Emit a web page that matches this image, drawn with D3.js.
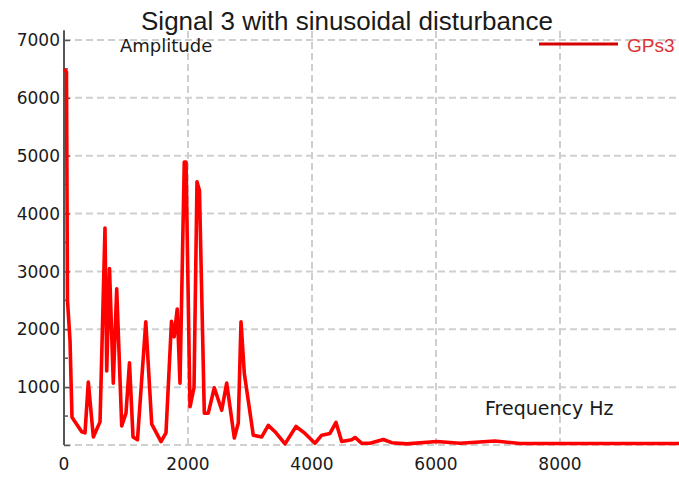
<!DOCTYPE html>
<html>
<head>
<meta charset="utf-8">
<script src="https://cdn.jsdelivr.net/npm/d3@7"></script>
<style>
  body { margin: 0; background: #fff; }
  svg { display: block; }
</style>
</head>
<body>
<div class="chart"></div>
<script>
// spectrum (Hz, amplitude)
const freqs = [0, 40, 56, 97, 129, 285, 339, 392, 473, 581, 661, 689, 734, 795, 850, 931, 1000,
  1056, 1113, 1185, 1319, 1415, 1565, 1645, 1734, 1777, 1826, 1871, 1940, 1968, 2032, 2097,
  2145, 2185, 2263, 2327, 2424, 2544, 2624, 2747, 2811, 2855, 2908, 3053, 3189, 3295, 3403,
  3565, 3742, 3887, 4048, 4157, 4290, 4387, 4479, 4640, 4694, 4802, 4935, 5150, 5286, 5528,
  6012, 6387, 6952, 7355, 8000, 10000];
const amps = [6500, 6450, 2500, 1810, 480, 230, 210, 1090, 140, 400, 3750, 1280, 3050, 1070, 2700, 330, 550,
  1420, 140, 90, 2130, 360, 60, 210, 2140, 1870, 2350, 1070, 4890, 4890, 660, 990,
  4550, 4400, 550, 550, 990, 600, 1070, 120, 380, 2130, 1240, 170, 140, 340, 230,
  20, 320, 200, 30, 170, 200, 390, 60, 90, 130, 30, 30, 95, 40, 20,
  60, 30, 70, 25, 25, 25];

const xTicks = [0, 2000, 4000, 6000, 8000];
const yTicks = [0, 1000, 2000, 3000, 4000, 5000, 6000, 7000];
const yMinor = [500, 1500, 2500, 3500, 4500, 5500, 6500];

const w = 679;
const h = 479;
const left = 64;
const bottom = 445;

const xScale = d3.scaleLinear().domain([0, 10000]).range([left, left + 620]);
const yScale = d3.scaleLinear().domain([0, 7000]).range([bottom, 40]);
const yTop = yScale(7170);

const svg = d3.select(".chart").append("svg").attr("width", w).attr("height", h);

// grid
svg.append("g")
  .selectAll("line")
  .data(yTicks)
  .enter()
  .append("line")
  .attr("x1", left)
  .attr("x2", w)
  .attr("y1", (d) => yScale(d))
  .attr("y2", (d) => yScale(d))
  .attr("stroke", "#cfcfcf")
  .attr("stroke-width", 2)
  .attr("stroke-dasharray", "7,4");

svg.append("g")
  .selectAll("line")
  .data(xTicks.slice(1))
  .enter()
  .append("line")
  .attr("x1", (d) => xScale(d))
  .attr("x2", (d) => xScale(d))
  .attr("y1", bottom)
  .attr("y2", yTop)
  .attr("stroke", "#cfcfcf")
  .attr("stroke-width", 2)
  .attr("stroke-dasharray", "7,4");

// y axis, ticks pointing into the plot
const yAxis = d3.axisRight(yScale).tickValues(yTicks).tickSize(6).tickFormat("");
const yAxisG = svg.append("g").attr("transform", "translate(" + left + ",0)").call(yAxis);
yAxisG.select(".domain").remove();
yAxisG.selectAll("line").attr("stroke", "#555").attr("stroke-width", 1.5);

svg.append("g")
  .selectAll("line")
  .data(yMinor)
  .enter()
  .append("line")
  .attr("x1", left)
  .attr("x2", left + 4)
  .attr("y1", (d) => yScale(d))
  .attr("y2", (d) => yScale(d))
  .attr("stroke", "#555")
  .attr("stroke-width", 1.5);

svg.append("line")
  .attr("x1", left)
  .attr("x2", left)
  .attr("y1", bottom)
  .attr("y2", yTop)
  .attr("stroke", "#555")
  .attr("stroke-width", 2);

svg.append("g")
  .selectAll("text")
  .data(yTicks.slice(1))
  .enter()
  .append("text")
  .attr("x", left - 4)
  .attr("y", (d) => yScale(d))
  .attr("dy", "0.36em")
  .attr("text-anchor", "end")
  .style("font-family", "DejaVu Sans")
  .style("font-size", "17px")
  .style("fill", "#1a1a1a")
  .text((d) => d);

svg.append("g")
  .selectAll("text")
  .data(xTicks)
  .enter()
  .append("text")
  .attr("x", (d) => xScale(d))
  .attr("y", 470)
  .attr("text-anchor", "middle")
  .style("font-family", "DejaVu Sans")
  .style("font-size", "17px")
  .style("fill", "#1a1a1a")
  .text((d) => d);

// spectrum line
const line = d3.line()
  .x((d, i) => xScale(freqs[i]))
  .y((d, i) => yScale(amps[i]));

svg.append("path")
  .datum(amps)
  .attr("d", line)
  .attr("fill", "none")
  .attr("stroke", "#f00")
  .attr("stroke-width", 3.6)
  .attr("stroke-linejoin", "round");

// titles
svg.append("text")
  .attr("x", 347)
  .attr("y", 30)
  .attr("text-anchor", "middle")
  .style("font-family", "Liberation Sans")
  .style("font-size", "26px")
  .style("fill", "#1a1a1a")
  .text("Signal 3 with sinusoidal disturbance");

svg.append("text")
  .attr("x", 120)
  .attr("y", 52)
  .style("font-family", "DejaVu Sans")
  .style("font-size", "18px")
  .style("fill", "#1a1a1a")
  .text("Amplitude");

svg.append("text")
  .attr("x", 485)
  .attr("y", 415)
  .style("font-family", "DejaVu Sans")
  .style("font-size", "19px")
  .style("fill", "#1a1a1a")
  .text("Frequency Hz");

// legend
svg.append("line")
  .attr("x1", 539)
  .attr("x2", 618)
  .attr("y1", 44)
  .attr("y2", 44)
  .attr("stroke", "#d40000")
  .attr("stroke-width", 3);

svg.append("text")
  .attr("x", 627)
  .attr("y", 52)
  .style("font-family", "Liberation Sans")
  .style("font-size", "19px")
  .style("fill", "#dd3333")
  .text("GPs3");
</script>
</body>
</html>
